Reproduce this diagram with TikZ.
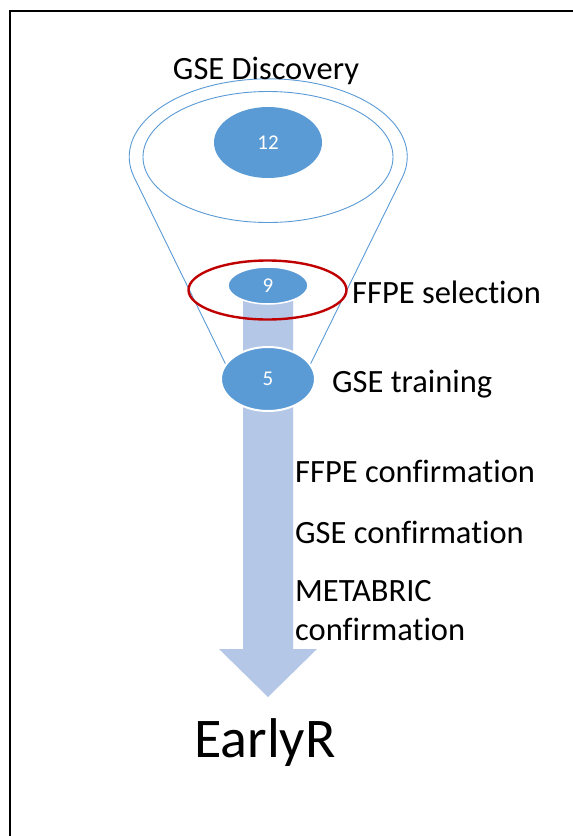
\documentclass[tikz,border=0pt]{standalone}
\usepackage{fontspec}
\setmainfont{Carlito}[Ligatures=NoCommon]
\definecolor{fillblue}{HTML}{5B9BD5}
\definecolor{arrowblue}{HTML}{B4C7E7}
\definecolor{darkred}{HTML}{C00000}
\usetikzlibrary{shapes.geometric}
\begin{document}
\begin{tikzpicture}[x=1pt,y=-1pt,
  blob/.style={ellipse, fill=fillblue, inner sep=0pt, text=white, font=\fontsize{21}{24}\selectfont},
  label/.style={anchor=base west, inner sep=0pt, font=\fontsize{32.5}{39}\selectfont, align=left},
  funnelline/.style={draw=fillblue, line width=0.9pt}]
\fill[white] (0,0) rectangle (573,836);
\useasboundingbox (0,0) rectangle (573,836);
% frame
\draw[line width=2pt, black] (9.5,836) -- (9.5,10.5) -- (573,10.5);
% funnel
\draw[funnelline] (227,367) -- (134,177) arc[start angle=165, end angle=375, x radius=139, y radius=78] -- (309,367);
\draw[funnelline] (268,157) ellipse[x radius=125, y radius=65.5];
% arrow
\fill[arrowblue] (243,295) -- (293,295) -- (293,649) -- (317,649) -- (268,697) -- (219,649) -- (243,649) -- cycle;
% ellipses
\node[blob, minimum width=108, minimum height=71] (n12) at (268,142.5) {12};
\node[blob, draw=white, line width=1.5pt, minimum width=80, minimum height=37] (n9) at (268,285.5) {9};
\node[blob, draw=white, line width=2pt, minimum width=94, minimum height=64] (n5) at (268,379) {5};
\draw[darkred, line width=2.4pt] (267.5,290) ellipse[x radius=79, y radius=29.5];
% texts
\node[anchor=base, inner sep=0pt, font=\fontsize{32.5}{37}\selectfont] (disc) at (266,79) {GSE Discovery};
\node[label] (sel) at (352,303) {FFPE selection};
\node[label] (train) at (332,392) {GSE training};
\node[label] (ffpec) at (295,482) {FFPE confirmation};
\node[label] (gsec) at (295,543) {GSE confirmation};
\node[label, anchor=north west, text depth=0pt] (meta) at (295,580) {METABRIC\\confirmation};
\node[anchor=base, inner sep=0pt, font=\fontsize{56}{60}\selectfont] (early) at (265,757) {EarlyR};
\end{tikzpicture}
\end{document}
